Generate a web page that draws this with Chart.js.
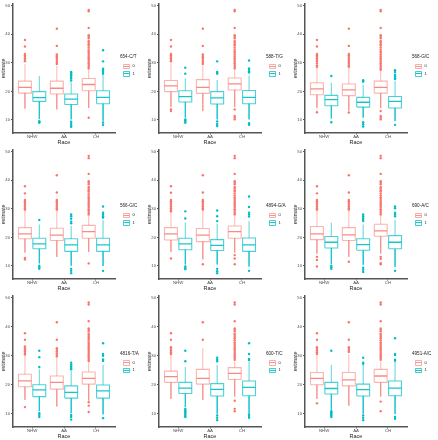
<!DOCTYPE html>
<html><head><meta charset="utf-8">
<script src="https://cdn.jsdelivr.net/npm/chart.js@4.4.0/dist/chart.umd.min.js"></script>
<style>
body{margin:0;background:#fff;width:438px;height:440px;position:relative;overflow:hidden;font-family:"Liberation Sans",Arial,sans-serif;}
.panel{position:absolute;width:146px;}
.panel canvas{position:absolute;left:0;top:0;}
.leg{position:absolute;left:120px;width:26px;height:26px;color:#222;}
.leg .t{position:absolute;left:0;top:0;font-size:4.6px;line-height:5px;white-space:nowrap;}
.leg .k{position:absolute;left:3px;width:5px;height:3.5px;border:1px solid;border-radius:0.8px;box-sizing:content-box;}
.leg .k i{position:absolute;left:0;right:0;top:1.3px;height:0.9px;}
.leg .l{position:absolute;left:12.5px;font-size:4px;line-height:5px;}
</style>
</head><body>
<script>
const snps = ['654-C/T','588-T/G','568-G/C','566-G/C','4894-G/A','690-A/C','4816-T/A','600-T/C','4951-A/C'];
const races = ['NHW','AA','CH'];
const genotypes = ['0','1'];

// genotype 0 (red): per panel, values for NHW, AA, CH
const q1_0 = [[19.4,19.1,20.2],[19.9,19.3,20.5],[18.8,18.5,19.4],[19.5,18.9,19.7],[19.1,18.5,19.7],[19.2,18.9,20.4],[19.3,18.5,20.2],[20.8,20.2,21.8],[20.0,19.6,20.8]];
const med0 = [[21.4,21.1,22.4],[21.9,21.4,22.6],[20.9,20.5,21.4],[21.2,20.8,22.0],[21.2,20.8,22.0],[21.2,20.9,22.3],[21.3,20.8,22.2],[22.8,22.2,23.9],[22.2,21.7,23.0]];
const q3_0 = [[23.6,23.6,24.5],[23.8,24.1,24.7],[23.0,22.6,23.6],[23.4,23.2,24.2],[23.4,23.1,24.0],[23.8,23.4,24.6],[23.6,23.0,24.4],[24.7,25.3,25.9],[24.2,24.2,25.3]];
const lo0 = [[14.0,13.7,14.2],[14.5,13.1,14.5],[14.2,13.3,14.2],[14.7,13.2,14.9],[14.9,12.3,14.7],[14.3,13.2,14.3],[14.8,12.5,14.5],[15.1,14.8,15.9],[15.1,12.8,15.9]];
const hi0 = [[29.5,29.0,27.4],[29.9,29.2,27.4],[28.0,28.3,27.0],[29.3,29.3,27.5],[29.0,29.3,27.5],[29.3,29.3,27.5],[30.0,29.5,27.8],[30.2,32.6,28.0],[30.0,30.5,28.0]];
const out0 = [
 [[38.0,35.7,33.1,32.6,32.1,31.6,31.0,30.5],[41.9,35.9,32.9,32.4,31.9,31.3,30.6,30.0,29.6],[48.5,48.0,42.2,39.6,39.1,38.6,37.6,37.1,36.5,36.0,35.3,34.6,34.0,33.4,32.8,32.2,31.6,31.0,30.4,29.8,29.2,28.6,28.0,10.8]],
 [[38.0,35.7,33.1,32.6,32.1,31.6,31.0,30.5,13.7,13.1],[41.9,35.9,32.9,32.4,31.9,31.3,30.6,30.0,29.6],[48.5,48.0,42.2,39.6,39.1,38.6,37.6,37.1,36.5,36.0,35.3,34.6,34.0,33.4,32.8,32.2,31.6,31.0,30.4,29.8,29.2,28.6,28.0,13.7,11.4,10.8,10.2]],
 [[38.0,35.7,33.1,32.6,32.1,31.6,31.0,30.5,29.8,29.1,28.5,12.7],[41.9,35.9,33.1,32.6,32.0,31.4,30.8,30.2,29.6,29.0,28.6,12.6],[48.5,48.0,42.2,39.6,39.1,38.6,37.6,37.1,36.5,36.0,35.3,34.6,34.0,33.4,32.8,32.2,31.6,31.0,30.4,29.8,29.2,28.6,28.0,27.5,13.1,11.4,10.8,10.2]],
 [[37.9,35.4,33.1,32.6,32.0,31.4,30.8,30.2,29.7,12.8,12.3],[41.7,35.7,33.1,32.6,32.0,31.4,30.8,30.2,29.7],[48.5,47.7,42.2,39.6,39.1,38.6,37.6,37.1,36.5,36.0,35.3,34.6,34.0,33.4,32.8,32.2,31.6,31.0,30.4,29.8,29.2,28.6,28.0,10.9]],
 [[37.9,35.6,33.1,32.6,32.0,31.4,30.8,30.2,29.6,29.1,12.6],[41.7,35.7,33.1,32.6,32.0,31.4,30.8,30.2,29.7,10.6],[48.5,47.7,42.2,39.6,39.1,38.6,37.6,37.1,36.5,36.0,35.3,34.6,34.0,33.4,32.8,32.2,31.6,31.0,30.4,29.8,29.2,28.6,28.0,13.8,12.6,10.6]],
 [[37.9,35.4,33.1,32.6,32.0,31.4,30.8,30.2,29.7,13.2,12.1,9.8],[41.7,35.7,33.1,32.6,32.0,31.4,30.8,30.2,29.7,11.5],[48.5,47.7,42.2,39.6,39.1,38.6,37.6,37.1,36.5,36.0,35.3,34.6,34.0,33.4,32.8,32.2,31.6,31.0,30.4,29.8,29.2,28.6,28.0,13.2,12.5,11.0,10.6]],
 [[37.7,35.5,33.2,32.6,32.0,31.4,30.9,30.4,12.3],[41.5,35.5,32.6,32.0,31.4,30.8,30.2,29.8],[48.3,47.6,41.9,39.4,38.9,38.4,37.6,37.1,36.5,36.0,35.3,34.6,34.0,33.4,32.8,32.2,31.6,31.0,30.4,29.8,29.2,28.6,28.2,14.0,12.8,10.6]],
 [[37.7,35.5,32.9,32.4,31.8,31.2,30.6],[41.5,35.5],[48.3,47.6,41.9,39.4,38.9,38.4,37.6,37.1,36.5,36.0,35.3,34.6,34.0,33.4,32.8,32.2,31.6,31.0,30.4,29.8,29.2,28.6,14.5,11.7,10.9]],
 [[37.7,35.5,32.9,32.4,31.8,31.2,30.6,13.6],[41.5,35.5,32.9,32.3,31.6,31.3],[48.3,47.6,41.9,39.4,38.9,38.4,37.6,37.1,36.5,36.0,35.3,34.6,34.0,33.4,32.8,32.2,31.6,31.0,30.4,29.8,29.2,28.6,14.2,10.9]]
];

// genotype 1 (teal)
const q1_1 = [[16.5,15.4,15.7],[16.3,15.6,15.7],[15.0,14.5,14.2],[16.0,15.1,15.1],[15.7,15.4,15.1],[16.3,15.5,16.0],[15.9,15.4,15.4],[17.0,16.1,16.2],[16.8,16.1,16.2]];
const med1 = [[17.8,17.3,17.9],[18.2,17.7,17.9],[17.1,16.2,16.5],[17.7,17.4,17.4],[17.7,17.2,17.4],[18.3,17.5,18.3],[18.2,17.4,17.9],[18.8,18.4,19.1],[18.7,18.3,18.8]];
const q3_1 = [[19.9,19.1,20.2],[20.2,19.9,20.3],[18.6,17.9,18.2],[19.7,19.5,19.7],[19.7,19.2,19.8],[20.3,19.5,20.6],[20.0,19.6,19.9],[20.8,20.4,21.3],[20.8,20.2,21.3]];
const lo1 = [[10.3,10.2,9.7],[10.8,10.2,10.2],[10.5,10.8,9.6],[10.9,10.1,10.0],[10.5,10.5,9.8],[10.7,10.4,9.7],[10.9,10.2,9.8],[12.3,10.0,10.0],[11.4,10.0,9.9]];
const hi1 = [[25.4,23.2,25.9],[24.5,24.0,25.5],[23.0,22.2,23.6],[24.5,24.0,26.0],[25.2,24.8,25.7],[25.1,24.5,26.0],[25.3,24.8,26.8],[26.1,26.8,28.0],[26.8,26.8,28.0]];
const out1 = [
 [[9.6,9.3,9.0],[26.8,26.5,26.0,25.5,25.0,24.5,23.8,9.4,8.7,8.0,7.6],[34.4,30.5,27.9,27.4,26.8,26.2,9.1,8.3]],
 [[28.3,26.2,10.2,9.8,9.5,9.0],[30.5,26.8,26.5,26.2,9.5,8.6,7.9],[30.8,28.0,27.5,27.0,26.6,8.9,8.3]],
 [[25.4,9.2],[23.9,23.6,23.4,9.2,8.5,7.7],[27.4,26.8,25.8,25.2,24.6,24.3,8.3]],
 [[26.1,10.1,9.6,9.0],[28.0,27.4,26.5,25.5,24.9,9.0,8.3,7.5],[30.8,28.6,28.0,27.4,26.9,8.3]],
 [[29.1,26.6,9.8,9.3,8.9],[29.4,27.4,25.7,9.0,8.2,7.5],[34.3,30.6,28.6,28.0,27.3,8.3]],
 [[10.1,9.6,9.0],[28.0,27.4,26.8,26.2,25.7,9.4,8.7,7.9],[30.8,30.2,28.6,28.0,27.4,8.3]],
 [[31.7,29.5,26.1,10.2,9.6,8.9],[27.6,27.0,26.4,25.8,25.3,9.6,8.9,8.0],[34.3,30.6,30.0,28.7,28.2,8.5]],
 [[31.7,28.1,11.7,11.2,10.8,10.4,10.0,9.6,9.2,8.9],[29.3,28.6,28.1,9.4,8.6,7.8],[34.3,30.6,28.9,28.5,9.7,9.2,8.6]],
 [[31.7,10.9,10.5,10.1,9.7,9.3,8.9],[29.3,27.6,27.2,9.4,8.6,7.8],[36.0,30.6,30.2,28.6,28.3,8.9,8.3]]
];

const yTicks = [10,20,30,40,50];

Chart.defaults.font.family = "'Liberation Sans', Arial, sans-serif";
const RED = [248,118,109], TEAL = [0,191,196];
const rgba = (c,a) => `rgba(${c[0]},${c[1]},${c[2]},${a})`;
const OFF = [-0.225, 0.225], HW = 0.2025;

function boxPts(g, q1, q3){const p=[];for(let i=0;i<3;i++){const c=i+1+OFF[g];p.push({x:c-HW,y:q1[i]},{x:c-HW,y:q3[i]},{x:c+HW,y:q3[i]},{x:c+HW,y:q1[i]},{x:c-HW,y:q1[i]},{x:c,y:null});}return p;}
function medPts(g, m){const p=[];for(let i=0;i<3;i++){const c=i+1+OFF[g];p.push({x:c-HW,y:m[i]},{x:c+HW,y:m[i]},{x:c,y:null});}return p;}
function whiskPts(g, q1, q3, lo, hi){const p=[];for(let i=0;i<3;i++){const c=i+1+OFF[g];p.push({x:c,y:q3[i]},{x:c,y:hi[i]},{x:c,y:null},{x:c,y:q1[i]},{x:c,y:lo[i]},{x:c,y:null});}return p;}
function outPts(g, o){const p=[];for(let i=0;i<3;i++){const c=i+1+OFF[g];o[i].forEach(v=>p.push({x:c,y:v}));}return p;}

function lineDs(data, color, w){return {type:'line',data,borderColor:color,borderWidth:w,pointRadius:0,spanGaps:false,tension:0,fill:false};}

for (let p=0;p<9;p++){
  const row=Math.floor(p/3), col=p%3;
  const h = row===2?148:146;
  const div=document.createElement('div');
  div.className='panel';
  div.style.left=(col*146)+'px'; div.style.top=(row*146)+'px'; div.style.height=h+'px';
  const cv=document.createElement('canvas');
  cv.width=146; cv.height=h; cv.style.width='146px'; cv.style.height=h+'px';
  div.appendChild(cv);
  // legend
  const T=[54,57,58.5][row];
  const lg=document.createElement('div'); lg.className='leg'; lg.style.top=T+'px';
  lg.innerHTML=`<div class="t">${snps[p]}</div>`+
    `<div class="k" style="top:9.5px;border-color:${rgba(RED,0.6)}"><i style="background:${rgba(RED,0.8)}"></i></div><div class="l" style="top:9.3px">${genotypes[0]}</div>`+
    `<div class="k" style="top:17px;border-color:${rgba(TEAL,0.75)}"><i style="background:${rgba(TEAL,0.9)}"></i></div><div class="l" style="top:16.8px">${genotypes[1]}</div>`;
  div.appendChild(lg);
  document.body.appendChild(div);

  const ds=[
    lineDs(whiskPts(0,q1_0[p],q3_0[p],lo0[p],hi0[p]), rgba(RED,0.5), 1),
    lineDs(boxPts(0,q1_0[p],q3_0[p]), rgba(RED,0.55), 1.1),
    lineDs(medPts(0,med0[p]), rgba(RED,0.85), 1.3),
    {type:'scatter',data:outPts(0,out0[p]),backgroundColor:rgba(RED,1),borderWidth:0,pointRadius:1.2},
    lineDs(whiskPts(1,q1_1[p],q3_1[p],lo1[p],hi1[p]), rgba(TEAL,0.65), 1),
    lineDs(boxPts(1,q1_1[p],q3_1[p]), rgba(TEAL,0.7), 1.1),
    lineDs(medPts(1,med1[p]), rgba(TEAL,0.9), 1.3),
    {type:'scatter',data:outPts(1,out1[p]),backgroundColor:rgba(TEAL,1),borderWidth:0,pointRadius:1.2}
  ];
  const gridX={display:true,drawOnChartArea:false,drawTicks:true,tickLength:1.5,color:'#555',lineWidth:1};
  const gridY={display:true,drawOnChartArea:false,drawTicks:true,tickLength:2,color:'#555',lineWidth:1};
  const border={display:true,color:'#555',width:1.5};
  new Chart(cv,{
    type:'line',
    data:{datasets:ds},
    options:{
      responsive:false,animation:false,devicePixelRatio:1,
      layout:{padding:{left:0,right:31,top:[1,2,3][row],bottom:0}},
      plugins:{legend:{display:false},tooltip:{enabled:false}},
      scales:{
        x:{type:'linear',min:0.4,max:3.6,grid:gridX,border,
          ticks:{stepSize:1,includeBounds:false,autoSkip:false,maxRotation:0,padding:0,color:'#4d4d4d',font:{size:4.3},
            callback:v=>Number.isInteger(v)?races[v-1]:''},
          title:{display:true,text:'Race',color:'#222',font:{size:5.5},padding:{top:0,bottom:0}},
          afterFit:s=>{s.height=13;}},
        y:{type:'linear',min:5.45,max:50.55,grid:gridY,border,
          afterBuildTicks:s=>{s.ticks=yTicks.map(v=>({value:v}));},
          ticks:{padding:1,color:'#4d4d4d',font:{size:4.2}},
          title:{display:true,text:'estimate',color:'#222',font:{size:5.2},padding:{top:0,bottom:1}},
          afterFit:s=>{s.width=13;}}
      }
    }
  });
}
</script>
</body></html>
